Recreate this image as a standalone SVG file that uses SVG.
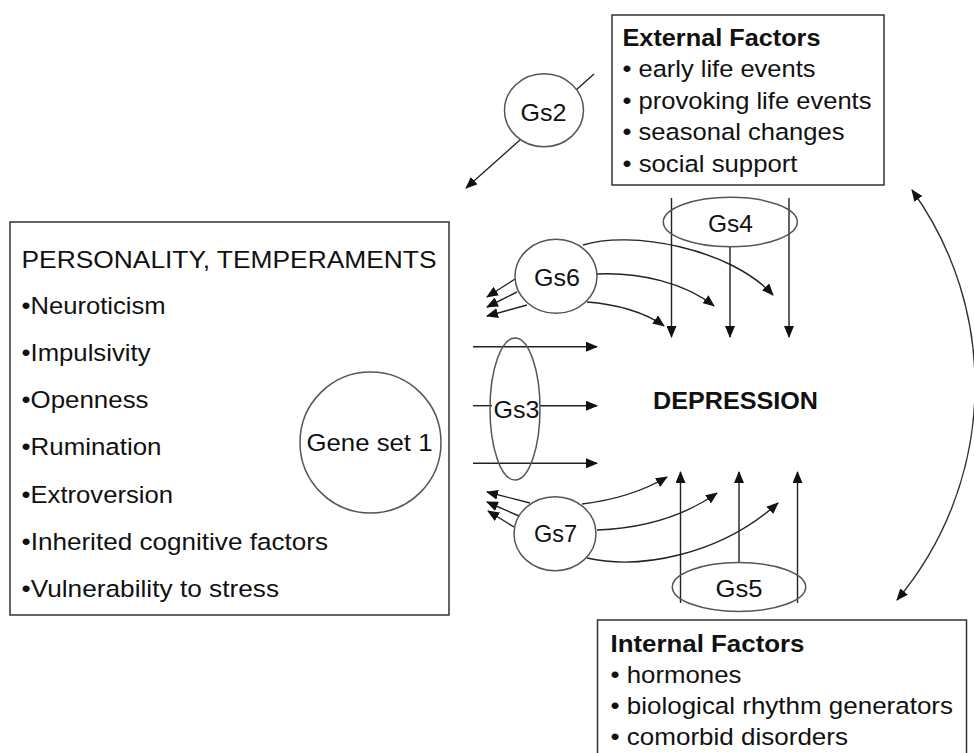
<svg xmlns="http://www.w3.org/2000/svg" width="974" height="753" viewBox="0 0 974 753">
<style>
text{font-family:"Liberation Sans",Arial,sans-serif;font-size:24.5px;fill:#111}
.b{font-weight:bold}
.box{fill:#fff;stroke:#333;stroke-width:1.5}
.nd{fill:none;stroke:#555;stroke-width:1.5}
.ndw{fill:#fff;stroke:#555;stroke-width:1.5}
.c{fill:none;stroke:#222;stroke-width:1.4;marker-end:url(#ah)}
.l{fill:none;stroke:#222;stroke-width:1.4}
.bi{fill:none;stroke:#333;stroke-width:1.4;marker-start:url(#ahs);marker-end:url(#ah)}
.m{text-anchor:middle}
</style>
<defs>
<marker id="ah" markerUnits="userSpaceOnUse" markerWidth="12" markerHeight="10" refX="11" refY="5" orient="auto"><path d="M0,0 L12,5 L0,10 z" fill="#111"/></marker>
<marker id="ahs" markerUnits="userSpaceOnUse" markerWidth="12" markerHeight="10" refX="11" refY="5" orient="auto-start-reverse"><path d="M0,0 L12,5 L0,10 z" fill="#111"/></marker>
</defs>
<rect width="974" height="753" fill="#fff"/>

<g id="personality">
<rect class="box" x="10" y="222" width="439" height="393"/>
<text x="21.5" y="268" textLength="415" lengthAdjust="spacingAndGlyphs">PERSONALITY, TEMPERAMENTS</text>
<text x="21.5" y="313.5" textLength="144" lengthAdjust="spacingAndGlyphs">•Neuroticism</text>
<text x="21.5" y="360.8" textLength="129" lengthAdjust="spacingAndGlyphs">•Impulsivity</text>
<text x="21.5" y="408.1" textLength="127" lengthAdjust="spacingAndGlyphs">•Openness</text>
<text x="21.5" y="455.4" textLength="140" lengthAdjust="spacingAndGlyphs">•Rumination</text>
<text x="21.5" y="502.7" textLength="151.5" lengthAdjust="spacingAndGlyphs">•Extroversion</text>
<text x="21.5" y="550" textLength="306.5" lengthAdjust="spacingAndGlyphs">•Inherited cognitive factors</text>
<text x="21.5" y="597.3" textLength="257.5" lengthAdjust="spacingAndGlyphs">•Vulnerability to stress</text>
</g>

<g id="external">
<rect class="box" x="612" y="15" width="272" height="170"/>
<text class="b" x="622.5" y="45.5" textLength="198" lengthAdjust="spacingAndGlyphs">External Factors</text>
<text x="622.5" y="77" textLength="193" lengthAdjust="spacingAndGlyphs">• early life events</text>
<text x="622.5" y="108.5" textLength="249" lengthAdjust="spacingAndGlyphs">• provoking life events</text>
<text x="622.5" y="140" textLength="222" lengthAdjust="spacingAndGlyphs">• seasonal changes</text>
<text x="622.5" y="171.5" textLength="175" lengthAdjust="spacingAndGlyphs">• social support</text>
</g>

<g id="internal">
<rect class="box" x="597.5" y="620" width="369" height="140"/>
<text class="b" x="610.5" y="651.5" textLength="194" lengthAdjust="spacingAndGlyphs">Internal Factors</text>
<text x="610.5" y="683" textLength="131" lengthAdjust="spacingAndGlyphs">• hormones</text>
<text x="610.5" y="714" textLength="342.5" lengthAdjust="spacingAndGlyphs">• biological rhythm generators</text>
<text x="610.5" y="744.5" textLength="237.5" lengthAdjust="spacingAndGlyphs">• comorbid disorders</text>
</g>

<g id="connectors">
<path class="c" d="M594 74 L466 188"/>
<path class="c" d="M473 346.7 H597"/>
<path class="l" d="M473 405.7 H492"/>
<path class="c" d="M540 405.7 H597"/>
<path class="c" d="M473 463.3 H597"/>
<path class="c" d="M671.5 198 V337"/>
<path class="c" d="M730 247 V337"/>
<path class="c" d="M789 198 V337"/>
<path class="c" d="M680.5 603 V472"/>
<path class="c" d="M739 562.5 V472"/>
<path class="c" d="M797.5 603 V472"/>
<path class="c" d="M515 279 L487 297"/>
<path class="c" d="M517 292 L487 307"/>
<path class="c" d="M527 305 L487 316"/>
<path class="c" d="M530 503 L487 492"/>
<path class="c" d="M519 516 L487 502"/>
<path class="c" d="M514 527 L488 511"/>
<path class="c" d="M583 245 C630 230 730 248 773 295"/>
<path class="c" d="M597 274 C640 272 685 283 714 306"/>
<path class="c" d="M587 302 C615 304 645 312 664 326"/>
<path class="c" d="M582 504 C615 500 645 490 667 477"/>
<path class="c" d="M597 530 C650 528 690 512 717 493"/>
<path class="c" d="M587 558 C640 570 720 555 778 503"/>
<path class="bi" d="M912 190 A334 334 0 0 1 897 600"/>
</g>

<g id="geneset1">
<circle class="nd" cx="370.5" cy="442.5" r="70.5"/>
<text class="m" x="369.5" y="451" textLength="126" lengthAdjust="spacingAndGlyphs">Gene set 1</text>
</g>
<g id="gs2">
<ellipse class="ndw" cx="544" cy="110.3" rx="39.5" ry="36.5"/>
<text class="m" x="543.5" y="121" textLength="46" lengthAdjust="spacingAndGlyphs">Gs2</text>
</g>
<g id="gs3">
<ellipse class="nd" cx="515" cy="409" rx="25" ry="71"/>
<text class="m" x="516.5" y="418" textLength="46" lengthAdjust="spacingAndGlyphs">Gs3</text>
</g>
<g id="gs4">
<ellipse class="nd" cx="730.3" cy="222" rx="67" ry="24.7"/>
<text class="m" x="730.5" y="231.5" textLength="45" lengthAdjust="spacingAndGlyphs">Gs4</text>
</g>
<g id="gs5">
<ellipse class="nd" cx="739" cy="587" rx="66.7" ry="24.5"/>
<text class="m" x="739" y="596.5" textLength="47" lengthAdjust="spacingAndGlyphs">Gs5</text>
</g>
<g id="gs6">
<ellipse class="ndw" cx="556" cy="276.3" rx="41" ry="37"/>
<text class="m" x="557" y="286" textLength="46" lengthAdjust="spacingAndGlyphs">Gs6</text>
</g>
<g id="gs7">
<ellipse class="ndw" cx="555" cy="533.7" rx="41" ry="37"/>
<text class="m" x="555.5" y="541.5" textLength="43" lengthAdjust="spacingAndGlyphs">Gs7</text>
</g>
<g id="depression">
<text class="b" x="653" y="408.5" textLength="165" lengthAdjust="spacingAndGlyphs">DEPRESSION</text>
</g>
</svg>
